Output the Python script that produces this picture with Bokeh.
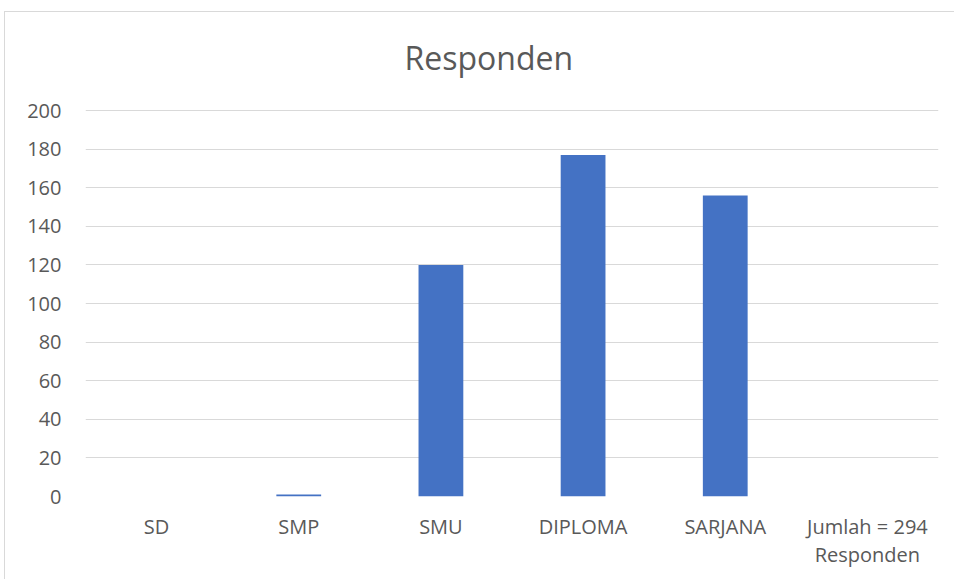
from bokeh.plotting import figure
from bokeh.models import Range1d, FactorRange, ColumnDataSource
from bokeh.core.properties import value
from bokeh.embed import file_html
from bokeh.resources import INLINE

categories = ["SD", "SMP", "SMU", "DIPLOMA", "SARJANA", "Jumlah = 294\nResponden"]
values = [0, 1, 120, 177, 156, 0]
y_ticks = [0, 20, 40, 60, 80, 100, 120, 140, 160, 180, 200]
title_text = "Responden"

FONT = "Open Sans"
TXT = "#595959"
GRID = "#d9d9d9"
BAR = "#4472c4"

# plot area extends above the 200 line to leave room for the title
Y_TOP = 250.78

src = ColumnDataSource(dict(cat=categories, val=values))
title_src = ColumnDataSource(dict(x=[0], y=[y_ticks[-1]], t=[title_text]))

p = figure(
    x_range=FactorRange(*categories, range_padding=0),
    y_range=Range1d(0, Y_TOP),
    width=950, height=568,
    output_backend="svg", toolbar_location=None,
    min_border_left=80, min_border_right=17,
    min_border_top=0, min_border_bottom=84,
)
p.margin = (11, 0, 0, 4)
p.styles = {"border-left": "1px solid #d9d9d9", "border-top": "1px solid #d9d9d9"}

p.text(x="x", y="y", text="t", source=title_src,
       x_offset=319, y_offset=-53,
       text_align="left", text_baseline="alphabetic",
       text_font=value(FONT), text_font_size="32px", text_color=TXT)

p.vbar(x="cat", top="val", width=0.315, source=src, color=BAR, line_color=None)

for ax in (p.xaxis[0], p.yaxis[0]):
    ax.axis_line_color = None
    ax.major_tick_line_color = None
    ax.minor_tick_line_color = None
    ax.major_label_text_font = FONT
    ax.major_label_text_font_size = "20px"
    ax.major_label_text_color = TXT

p.yaxis.ticker = y_ticks
p.yaxis.major_label_standoff = 18
p.xaxis.major_label_standoff = 10
p.xaxis.major_label_text_line_height = 1.07

p.xgrid.grid_line_color = None
p.ygrid.grid_line_color = GRID
p.ygrid.grid_line_width = 1
p.outline_line_color = None
p.background_fill_color = "white"
p.border_fill_color = "white"

open("out.html", "w").write(file_html(p, INLINE))
